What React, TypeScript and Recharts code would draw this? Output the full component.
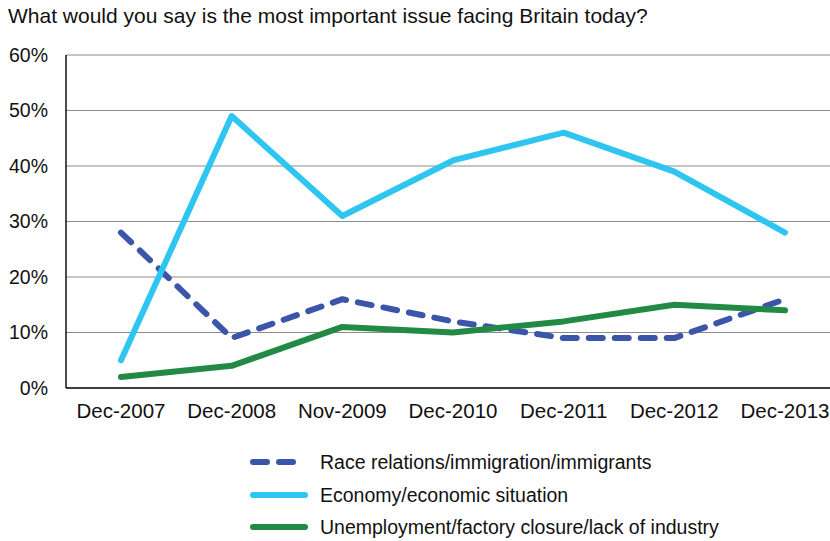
import { CartesianGrid, Legend, Line, LineChart, XAxis, YAxis } from "recharts";

const periods = ["Dec-2007", "Dec-2008", "Nov-2009", "Dec-2010", "Dec-2011", "Dec-2012", "Dec-2013"];
const raceImmigration = [28, 9, 16, 12, 9, 9, 16];
const economy = [5, 49, 31, 41, 46, 39, 28];
const unemployment = [2, 4, 11, 10, 12, 15, 14];
const yTicks = [0, 10, 20, 30, 40, 50, 60];

const seriesInfo = [
  { key: "race", name: "Race relations/immigration/immigrants", color: "#3b55a8", dash: "14 12" },
  { key: "economy", name: "Economy/economic situation", color: "#2ec5f1", dash: undefined },
  { key: "unemployment", name: "Unemployment/factory closure/lack of industry", color: "#238a45", dash: undefined },
];

const data = periods.map((period, i) => ({
  period,
  race: raceImmigration[i],
  economy: economy[i],
  unemployment: unemployment[i],
}));

const FONT = "'Liberation Sans', Arial, Helvetica, sans-serif";

function LegendBox() {
  return (
    <div
      style={{
        height: 99,
        boxSizing: "border-box",
        paddingTop: 4,
        paddingLeft: 248,
        fontFamily: FONT,
        fontSize: 19.5,
        lineHeight: "22px",
        color: "#111",
      }}
    >
      {seriesInfo.map((s) => (
        <div key={s.key} style={{ height: 32.5, display: "flex", alignItems: "center" }}>
          <svg width={72} height={12}>
            <line
              x1={5}
              y1={6}
              x2={57}
              y2={6}
              stroke={s.color}
              strokeWidth={6}
              strokeLinecap="round"
              strokeDasharray={s.dash}
            />
          </svg>
          <span>{s.name}</span>
        </div>
      ))}
    </div>
  );
}

export default function App() {
  return (
    <div
      style={{
        position: "fixed",
        left: 0,
        top: 0,
        width: 830,
        height: 541,
        overflow: "hidden",
        background: "#fff",
        fontFamily: FONT,
      }}
    >
      <div style={{ position: "absolute", left: 8, top: 4, fontSize: 21, color: "#111" }}>
        What would you say is the most important issue facing Britain today?
      </div>
      <LineChart width={850} height={541} data={data} margin={{ top: 55, right: 7, bottom: 0, left: 0 }}>
        <CartesianGrid vertical={false} stroke="#8c8c8c" strokeWidth={1} />
        <XAxis
          dataKey="period"
          height={54}
          padding={{ left: 55, right: 58 }}
          tickLine={false}
          tickSize={0}
          tickMargin={15}
          stroke="#111"
          strokeWidth={1.5}
          tick={{ fill: "#111", fontSize: 20.5, fontFamily: FONT }}
          interval={0}
        />
        <YAxis
          width={66}
          domain={[0, 60]}
          ticks={yTicks}
          tickFormatter={(v) => `${v}%`}
          tickLine={false}
          tickSize={0}
          tickMargin={18}
          stroke="#111"
          strokeWidth={1.5}
          tick={{ fill: "#111", fontSize: 19.5, fontFamily: FONT }}
        />
        <Legend verticalAlign="bottom" align="left" content={() => <LegendBox />} />
        {seriesInfo.map((s) => (
          <Line
            key={s.key}
            type="linear"
            dataKey={s.key}
            name={s.name}
            stroke={s.color}
            strokeWidth={6}
            strokeLinecap="round"
            strokeLinejoin="round"
            strokeDasharray={s.dash}
            dot={false}
            activeDot={false}
            isAnimationActive={false}
          />
        ))}
      </LineChart>
    </div>
  );
}
